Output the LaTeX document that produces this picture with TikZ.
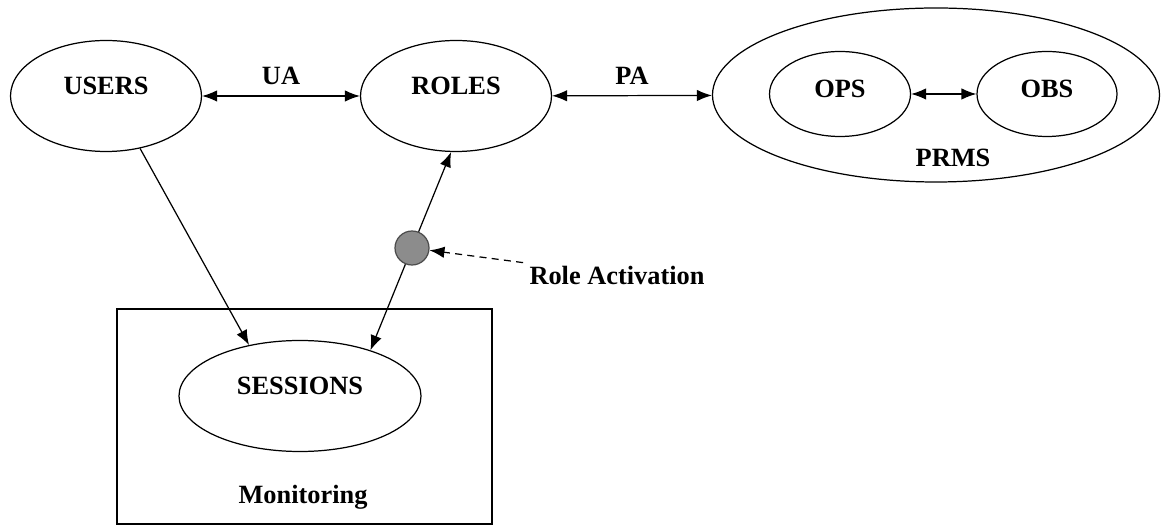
\documentclass[tikz,border=0pt]{standalone}
\usepackage{fontspec}
\setmainfont{Liberation Serif}
\usetikzlibrary{arrows.meta,shapes.geometric}
\definecolor{actgray}{RGB}{140,140,140}

\begin{document}
\begin{tikzpicture}[font=\fontsize{15}{18}\selectfont\bfseries, line width=0.7pt]
\useasboundingbox (0,0) rectangle (23.22,10.54);

\begin{scope}[every node/.style={ellipse,draw,inner sep=0pt,text height=0.35cm,text depth=0.4cm}]
    \node[minimum width=3.82cm,minimum height=2.22cm] (users) at (2.12,8.62) {USERS};
    \node[minimum width=3.82cm,minimum height=2.22cm] (roles) at (9.12,8.62) {ROLES};
    \node[minimum width=8.94cm,minimum height=3.48cm] (prms) at (18.72,8.64) {};
    \node[minimum width=2.82cm,minimum height=1.7cm,text depth=0.2cm] (ops) at (16.8,8.66) {OPS};
    \node[minimum width=2.8cm,minimum height=1.7cm,text depth=0.2cm] (obs) at (20.94,8.66) {OBS};
    \node[minimum width=4.84cm,minimum height=2.22cm] (sessions) at (6.0,2.62) {SESSIONS};
\end{scope}

\node[draw,minimum width=7.5cm,minimum height=4.3cm] (mon) at (6.09,2.21) {};
\node (montxt) at (6.06,0.6) {Monitoring};
\node (prmslbl) at (19.06,7.38) {PRMS};
\node[circle,draw=black!70,fill=actgray,minimum size=0.68cm,inner sep=0pt] (act) at (8.24,5.58) {};
\node (ra) at (12.34,5.04) {Role Activation};

\begin{scope}[>={Latex[length=3mm,width=2.3mm]}]
    \path [<->] (users) edge node[above=1mm] {UA} (roles);
    \path [<->] (roles) edge node[above=1mm] {PA} (prms);
    \path [<->] (ops) edge (obs);
    \path [->] (users.303) edge (sessions.135);
    \path [->] (act) edge (roles.265);
    \path [->] (act) edge (sessions.33);
    \path [->,dash pattern=on 4pt off 3pt] (ra) edge (act);
\end{scope}
\end{tikzpicture}
\end{document}
